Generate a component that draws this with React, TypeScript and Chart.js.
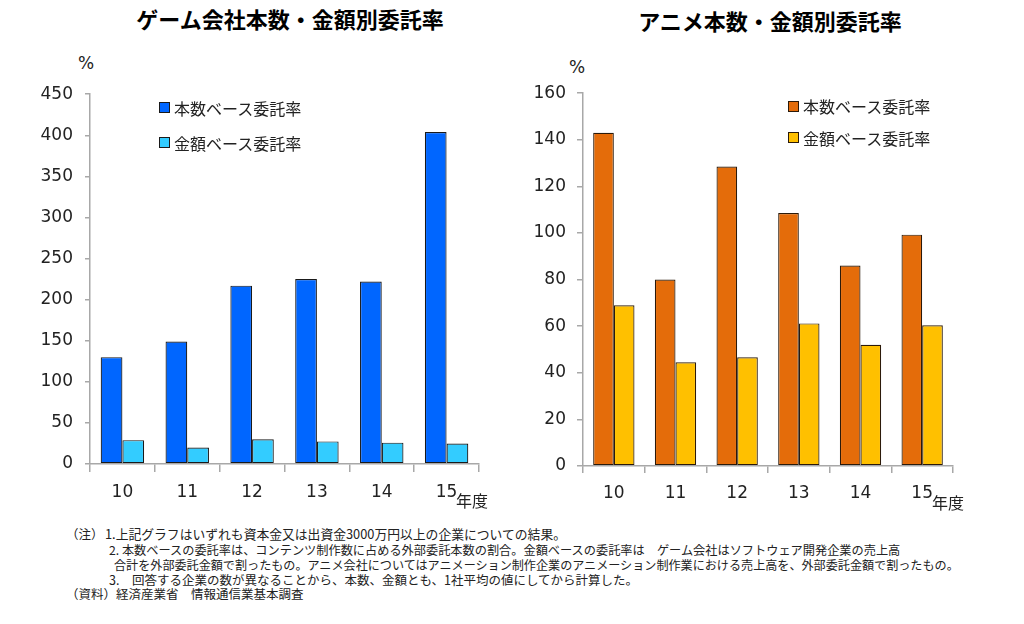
import React, { useEffect, useRef } from 'react';
import { Chart, registerables } from 'chart.js';

Chart.register(...registerables);

// ---- data ----
const years = ['10', '11', '12', '13', '14', '15'];
const seriesNames = ['本数ベース委託率', '金額ベース委託率'];
const gameCountRate = [130, 149, 217, 225, 222, 404];
const gameAmountRate = [29, 20, 30, 27.5, 26, 25];
const animeCountRate = [143, 80, 128.5, 108.6, 86, 99.3];
const animeAmountRate = [69, 44.5, 46.7, 61.2, 52, 60.4];
const gameAxis = [0, 450, 50];
const animeAxis = [0, 160, 20];
const titles = ['ゲーム会社本数・金額別委託率', 'アニメ本数・金額別委託率'];
const notes = [
  '1.上記グラフはいずれも資本金又は出資金3000万円以上の企業についての結果。',
  '2. 本数ベースの委託率は、コンテンツ制作数に占める外部委託本数の割合。金額ベースの委託率は　ゲーム会社はソフトウェア開発企業の売上高',
  '合計を外部委託金額で割ったもの。アニメ会社についてはアニメーション制作企業のアニメーション制作業における売上高を、外部委託金額で割ったもの。',
  '3.　回答する企業の数が異なることから、本数、金額とも、1社平均の値にしてから計算した。',
];
const noteHead = '（注）';
const sourceLine = '（資料）経済産業省　情報通信業基本調査';

const CJK = '"Noto Sans CJK JP", "Noto Sans", sans-serif';
const NUM = '"DejaVu Sans", Verdana, sans-serif';
const AXIS = '#A8A8A8';

type PanelProps = {
  left: number; top: number; width: number; height: number;
  a: number[]; b: number[]; colA: string; colB: string; border: string;
  axis: number[]; yWidth: number; yTick: number; yPad: number; xTick: number;
  padding: { top: number; right: number; bottom: number; left: number };
};

function BarPanel(p: PanelProps) {
  const ref = useRef<HTMLCanvasElement | null>(null);
  useEffect(() => {
    if (!ref.current) return;
    const font = { family: NUM, size: 17 };
    const chart = new Chart(ref.current, {
      type: 'bar',
      data: {
        labels: years,
        datasets: [
          { label: seriesNames[0], data: p.a, backgroundColor: p.colA, borderColor: p.border, borderWidth: 1.2, borderSkipped: false, categoryPercentage: 0.67, barPercentage: 1 },
          { label: seriesNames[1], data: p.b, backgroundColor: p.colB, borderColor: p.border, borderWidth: 1.2, borderSkipped: false, categoryPercentage: 0.67, barPercentage: 1 },
        ],
      },
      options: {
        responsive: false,
        animation: false,
        devicePixelRatio: 1,
        layout: { padding: p.padding },
        plugins: { legend: { display: false }, title: { display: false }, tooltip: { enabled: false } },
        scales: {
          x: {
            grid: { display: true, drawOnChartArea: false, drawTicks: true, tickLength: p.xTick, offset: true, color: AXIS, lineWidth: 1.5 },
            border: { display: true, color: AXIS, width: 1.5, z: 1 },
            ticks: { font, color: '#222', padding: 10, maxRotation: 0 },
            afterFit: (s: any) => { s.height = 40; },
          },
          y: {
            min: p.axis[0], max: p.axis[1],
            grid: { display: true, drawOnChartArea: false, drawTicks: true, tickLength: p.yTick, color: AXIS, lineWidth: 1.5 },
            border: { display: true, color: AXIS, width: 1.5 },
            ticks: { stepSize: p.axis[2], font, color: '#222', padding: p.yPad },
            afterFit: (s: any) => { s.width = p.yWidth; },
          },
        },
      } as any,
    });
    return () => chart.destroy();
  }, []);
  return (
    <canvas ref={ref} width={p.width} height={p.height}
      style={{ position: 'absolute', left: p.left, top: p.top, width: p.width, height: p.height }} />
  );
}

function Txt(props: { x: number; cy: number; size: number; text: string; family?: string; bold?: boolean; center?: boolean }) {
  const lh = Math.round(props.size * 1.4);
  return (
    <div style={{
      position: 'absolute', top: props.cy - lh / 2, height: lh, lineHeight: lh + 'px',
      left: props.center ? props.x - 300 : props.x, width: props.center ? 600 : undefined,
      textAlign: props.center ? 'center' : 'left', whiteSpace: 'nowrap',
      fontSize: props.size, fontFamily: props.family || CJK, fontWeight: props.bold ? 700 : 400, color: props.bold ? '#000' : '#222',
    }}>{props.text}</div>
  );
}

function LegendRow(props: { x: number; cy: number; color: string; border: string; text: string }) {
  return (
    <>
      <div style={{ position: 'absolute', left: props.x, top: props.cy - 5.5, width: 9, height: 9, background: props.color, border: `1px solid ${props.border}` }} />
      <Txt x={props.x + 15} cy={props.cy} size={16} text={props.text} />
    </>
  );
}

export default function App() {
  return (
    <div style={{ position: 'absolute', left: 0, top: 0, width: 1024, height: 624, background: '#fff', overflow: 'hidden' }}>
      <Txt x={290} cy={18} size={22} text={titles[0]} bold center />
      <Txt x={770} cy={20} size={22} text={titles[1]} bold center />
      <Txt x={78} cy={63} size={17} text="%" family={NUM} />
      <Txt x={569} cy={67} size={17} text="%" family={NUM} />

      <BarPanel left={0} top={72} width={500} height={450}
        a={gameCountRate} b={gameAmountRate} colA="#0066FF" colB="#33CCFF" border="#1a1a1a"
        axis={gameAxis} yWidth={90} yTick={5} yPad={12} xTick={8}
        padding={{ top: 20, right: 21, bottom: 18, left: 0 }} />
      <BarPanel left={500} top={72} width={480} height={452}
        a={animeCountRate} b={animeAmountRate} colA="#E46C0A" colB="#FFC000" border="#2b1a0a"
        axis={animeAxis} yWidth={83} yTick={6} yPad={11} xTick={7}
        padding={{ top: 20, right: 27, bottom: 18, left: 0 }} />

      <LegendRow x={159} cy={107.5} color="#0066FF" border="#1a1a1a" text={seriesNames[0]} />
      <LegendRow x={159} cy={142.5} color="#33CCFF" border="#1a1a1a" text={seriesNames[1]} />
      <LegendRow x={788} cy={106} color="#E46C0A" border="#2b1a0a" text={seriesNames[0]} />
      <LegendRow x={788} cy={137.5} color="#FFC000" border="#2b1a0a" text={seriesNames[1]} />

      <Txt x={456} cy={500} size={16} text="年度" />
      <Txt x={932} cy={502} size={16} text="年度" />

      <Txt x={66} cy={533.5} size={12.5} text={noteHead} />
      <Txt x={105} cy={533.5} size={12.8} text={notes[0]} />
      <Txt x={109} cy={550.5} size={12.2} text={notes[1]} />
      <Txt x={114} cy={564.5} size={12.1} text={notes[2]} />
      <Txt x={109} cy={579.5} size={12.5} text={notes[3]} />
      <Txt x={66} cy={594} size={12.5} text={sourceLine} />
    </div>
  );
}
